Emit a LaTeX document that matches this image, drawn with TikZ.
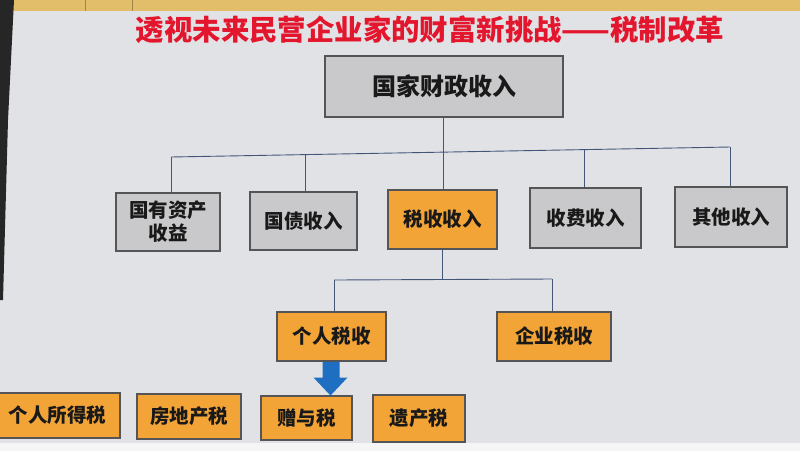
\documentclass[tikz,border=0pt]{standalone}
\usepackage{fontspec}
\setmainfont{Noto Sans CJK SC}
\usetikzlibrary{calc}
\definecolor{slidebg}{HTML}{E1E2E5}
\definecolor{bandgold}{HTML}{E2BD6A}
\definecolor{boxgray}{HTML}{C9C9CB}
\definecolor{boxorange}{HTML}{F2A437}
\definecolor{edgegray}{HTML}{555558}
\definecolor{linecol}{HTML}{44557A}
\definecolor{titlered}{HTML}{E3162E}
\definecolor{arrowblue}{HTML}{1E6FC2}
\tikzset{
  box/.style={draw=edgegray, line width=1.1pt, inner sep=0pt, align=center,
              font=\fontsize{19.5}{23}\selectfont\bfseries, text=black!90},
  graybox/.style={box, fill=boxgray},
  orangebox/.style={box, fill=boxorange},
  conn/.style={draw=linecol, line width=0.9pt},
}
\begin{document}
\begin{tikzpicture}[x=1pt,y=-1pt]
\useasboundingbox (0,0) rectangle (800,451);
% slide background and photo edges
\fill[slidebg] (0,0) rectangle (800,451);
\fill[black!4] (0,443) rectangle (800,451);
\fill[bandgold] (0,0) rectangle (800,11);
\draw[bandgold!70!black, line width=0.6pt] (85,0) -- (85,11) (132,0) -- (132,11);
\fill[black!85] (0,0) -- (14,0) -- (8,120) -- (3,300) -- (0,300) -- cycle;
% title
\node[text=titlered, font=\fontsize{28.4}{30}\selectfont\bfseries] (title) at (430,30)
  {透视未来民营企业家的财富新挑战——税制改革};
% root
\node[graybox, minimum width=238pt, minimum height=61pt,
      font=\fontsize{24}{28}\selectfont\bfseries] (root) at (444,86.5) {国家财政收入};
% children
\node[graybox, minimum width=104pt, minimum height=58pt] (c1) at (168,222) {国有资产\\收益};
\node[graybox, minimum width=107pt, minimum height=58pt] (c2) at (303.5,221) {国债收入};
\node[orangebox, minimum width=109pt, minimum height=59pt] (c3) at (442.5,219.5) {税收收入};
\node[graybox, minimum width=111pt, minimum height=60pt] (c4) at (585.5,218) {收费收入};
\node[graybox, minimum width=112pt, minimum height=60pt] (c5) at (731,217) {其他收入};
% second level
\node[orangebox, minimum width=109pt, minimum height=49pt] (g1) at (331.5,336.5) {个人税收};
\node[orangebox, minimum width=114pt, minimum height=49pt] (g2) at (554,336.5) {企业税收};
% bottom level
\node[orangebox, minimum width=125pt, minimum height=45pt] (b1) at (57.5,415.5) {个人所得税};
\node[orangebox, minimum width=104pt, minimum height=45pt] (b2) at (189,416.5) {房地产税};
\node[orangebox, minimum width=91pt, minimum height=44pt] (b3) at (306.5,418) {赠与税};
\node[orangebox, minimum width=92pt, minimum height=47pt] (b4) at (419,418.5) {遗产税};
% bus coordinates
\coordinate (busL) at (171,157);
\coordinate (busA) at (305,155);
\coordinate (busM) at (443,152);
\coordinate (busB) at (584,149);
\coordinate (busR) at (730,147);
\coordinate (bus2L) at (334,280);
\coordinate (bus2M) at (442,280);
\coordinate (bus2R) at (552,279);
% connectors
\draw[conn] (root.south -| busM) -- (busM);
\draw[conn] (busL) -- (busR);
\draw[conn] (busL) -- (c1.north -| busL);
\draw[conn] (busA) -- (c2.north -| busA);
\draw[conn] (busM) -- (c3.north -| busM);
\draw[conn] (busB) -- (c4.north -| busB);
\draw[conn] (busR) -- (c5.north -| busR);
\draw[conn] (c3.south -| bus2M) -- (bus2M);
\draw[conn] (bus2L) -- (bus2R);
\draw[conn] (bus2L) -- (g1.north -| bus2L);
\draw[conn] (bus2R) -- (g2.north -| bus2R);
% blue arrow from 个人税收 to 赠与税
\fill[arrowblue] ($(g1.south)+(-9,0.6)$) -- ($(g1.south)+(8,0.6)$) -- ($(g1.south)+(8,16)$)
  -- ($(g1.south)+(16,16)$) -- ($(g1.south)+(-1,34)$) -- ($(g1.south)+(-18,16)$)
  -- ($(g1.south)+(-9,16)$) -- cycle;
\end{tikzpicture}
\end{document}
